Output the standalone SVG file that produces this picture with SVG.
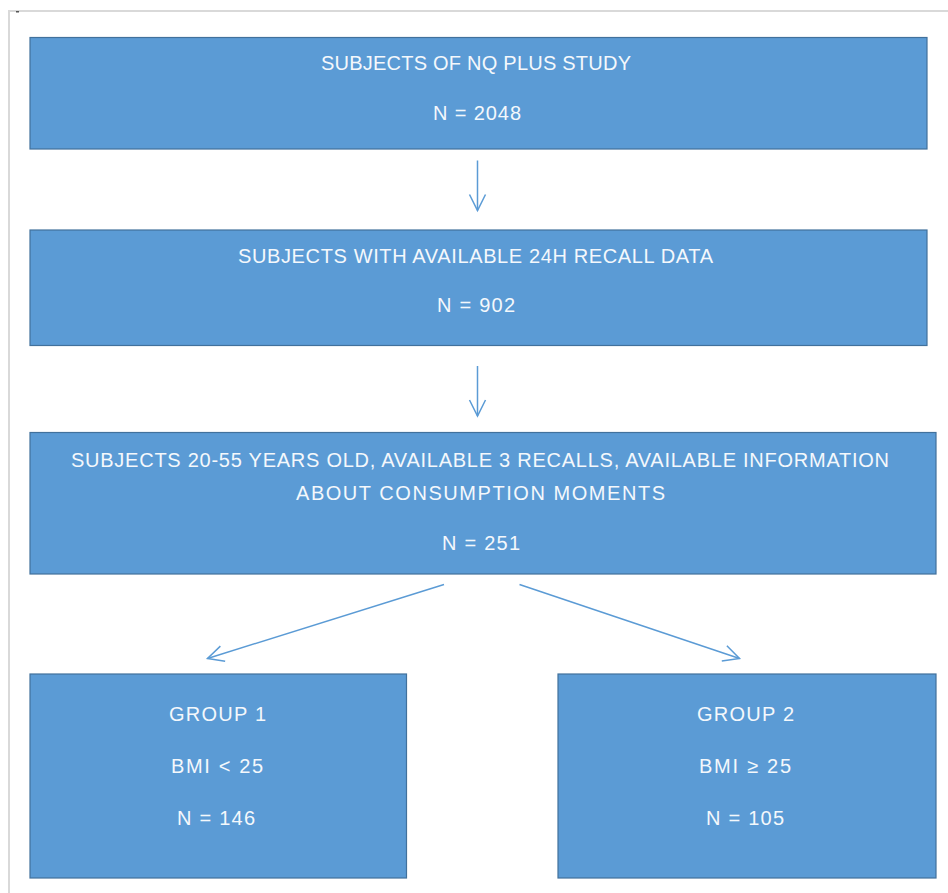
<svg xmlns="http://www.w3.org/2000/svg" width="948" height="893" viewBox="0 0 948 893">
<defs>
<style>
.box{fill:#5B9BD5;stroke:#41719C;stroke-width:1.2}
.t{font-family:"Liberation Sans",Arial,sans-serif;font-size:20px;fill:#F4F8FC;text-anchor:middle}
.c{stroke:#5B9BD5;stroke-width:1.5;fill:none}
.page{stroke:#D9D9D9;stroke-width:2;fill:none}
</style>
<marker id="arr" viewBox="0 0 20 20" refX="18" refY="10" markerWidth="20" markerHeight="20" markerUnits="userSpaceOnUse" orient="auto">
<path d="M2,2 L18,10 L2,18" fill="none" stroke="#5B9BD5" stroke-width="1.5"/>
</marker>
</defs>
<rect width="948" height="893" fill="#FFFFFF"/>
<path class="page" d="M9,893 V11 H948"/>
<rect x="16" y="11" width="3" height="1.5" fill="#555"/>
<g id="n1">
<rect class="box" x="30" y="37.5" width="897" height="111.5"/>
<text class="t" x="476" y="70" textLength="310" lengthAdjust="spacing">SUBJECTS OF NQ PLUS STUDY</text>
<text class="t" x="477" y="120" textLength="88" lengthAdjust="spacing">N = 2048</text>
</g>
<g id="n2">
<rect class="box" x="30" y="230" width="897" height="115.5"/>
<text class="t" x="475.5" y="263" textLength="475" lengthAdjust="spacing">SUBJECTS WITH AVAILABLE 24H RECALL DATA</text>
<text class="t" x="476" y="312" textLength="78" lengthAdjust="spacing">N = 902</text>
</g>
<g id="n3">
<rect class="box" x="30" y="432.5" width="906" height="141.5"/>
<text class="t" x="480" y="467" textLength="818" lengthAdjust="spacing">SUBJECTS 20-55 YEARS OLD, AVAILABLE 3 RECALLS, AVAILABLE INFORMATION</text>
<text class="t" x="480.5" y="500" textLength="369" lengthAdjust="spacing">ABOUT CONSUMPTION MOMENTS</text>
<text class="t" x="481" y="550" textLength="78" lengthAdjust="spacing">N = 251</text>
</g>
<g id="n4">
<rect class="box" x="30" y="674" width="376.5" height="204"/>
<text class="t" x="217.5" y="721" textLength="97" lengthAdjust="spacing">GROUP 1</text>
<text class="t" x="217" y="773" textLength="92" lengthAdjust="spacing">BMI &lt; 25</text>
<text class="t" x="216" y="825" textLength="78" lengthAdjust="spacing">N = 146</text>
</g>
<g id="n5">
<rect class="box" x="558" y="674" width="378" height="204"/>
<text class="t" x="745.5" y="721" textLength="97" lengthAdjust="spacing">GROUP 2</text>
<text class="t" x="745" y="773" textLength="92" lengthAdjust="spacing">BMI ≥ 25</text>
<text class="t" x="745" y="825" textLength="78" lengthAdjust="spacing">N = 105</text>
</g>
<g id="connectors">
<line class="c" x1="477.5" y1="160.5" x2="477.5" y2="210.5" marker-end="url(#arr)"/>
<line class="c" x1="477.5" y1="366" x2="477.5" y2="416" marker-end="url(#arr)"/>
<line class="c" x1="444" y1="584.5" x2="207.5" y2="658.5" marker-end="url(#arr)"/>
<line class="c" x1="519.5" y1="584.5" x2="739.5" y2="658.5" marker-end="url(#arr)"/>
</g>
</svg>
